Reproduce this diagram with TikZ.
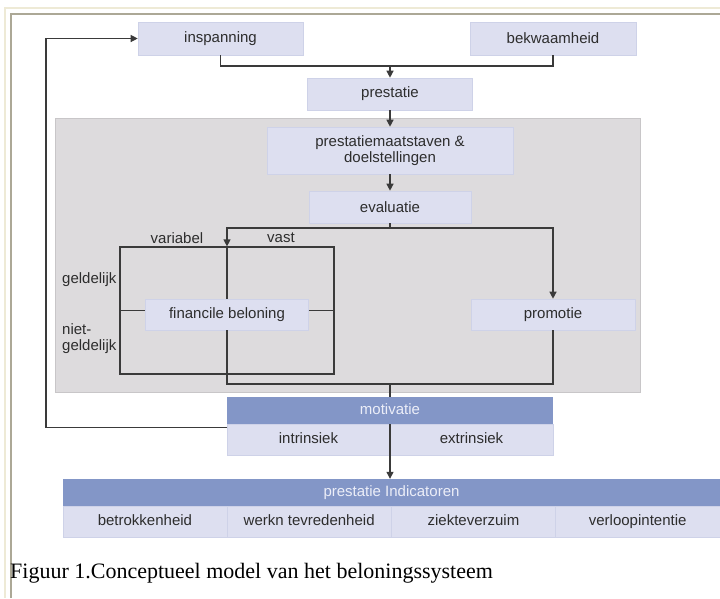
\documentclass[tikz,border=0pt]{standalone}
\usepackage{fontspec}
\setmainfont{Liberation Sans}
\newfontfamily\captionserif{Liberation Serif}
\usetikzlibrary{arrows.meta, positioning, calc}
\definecolor{boxlila}{RGB}{221,223,240}
\definecolor{boxrand}{RGB}{206,210,232}
\definecolor{kopblauw}{RGB}{131,150,199}
\definecolor{koptekst}{RGB}{236,238,248}
\definecolor{paneelgrijs}{RGB}{221,219,221}
\definecolor{paneelrand}{RGB}{200,198,200}
\definecolor{lijngrijs}{RGB}{58,58,58}
\definecolor{tekstgrijs}{RGB}{45,45,45}
\definecolor{kaderbeige}{RGB}{238,234,214}
\definecolor{kaderolijf}{RGB}{172,168,150}

\begin{document}
\begin{tikzpicture}[
  x=1pt, y=-1pt,
  every node/.style={font=\fontsize{15}{16}\selectfont, text=tekstgrijs},
  box/.style={
    fill=boxlila, draw=boxrand, line width=0.6pt,
    inner sep=0pt, align=center
  },
  kop/.style={fill=kopblauw, inner sep=0pt, text=koptekst, text height=11pt, text depth=3pt},
  cel/.style={
    fill=boxlila, draw=boxrand, line width=0.6pt, inner sep=0pt, outer sep=0pt,
    minimum width=163pt, minimum height=31pt, text height=11pt, text depth=3pt
  },
  arrow/.style={-{Triangle[length=7pt, width=7pt]}, line width=1.2pt, draw=lijngrijs},
  link/.style={line width=1.2pt, draw=lijngrijs},
  tag/.style={inner sep=0pt, align=left}
]

  % Achtergrond en kader
  \useasboundingbox (0,0) rectangle (720,598);
  \fill[white] (0,0) rectangle (720,598);
  \draw[kaderbeige, line width=1.5pt] (5,598) |- (720,8);
  \draw[kaderolijf, line width=1.5pt] (11,598) |- (720,14);

  % Grijs paneel (beoordeling en beloning)
  \node[fill=paneelgrijs, draw=paneelrand, line width=1pt, inner sep=0pt,
    minimum width=585pt, minimum height=274pt] (paneel) at (347.5,255) {};

  % Bovenste kolom
  \node[box, minimum width=165pt, minimum height=33pt] (inspanning) at (220.5,38.5) {inspanning};
  \node[box, minimum width=166pt, minimum height=33pt] (bekwaamheid) at (553,38.5) {bekwaamheid};
  \node[box, minimum width=165pt, minimum height=32pt] (prestatie) at (390,94) {prestatie};
  \node[box, minimum width=246pt, minimum height=47pt] (maatstaven) at (390,150.5) {prestatiemaatstaven \&\\doelstellingen};
  \node[box, minimum width=162pt, minimum height=32pt] (evaluatie) at (390,207) {evaluatie};

  % Beloningsraster
  \node[draw=lijngrijs, line width=1.2pt, inner sep=0pt,
    minimum width=214pt, minimum height=127pt] (raster) at (227,310.5) {};
  \node[box, minimum width=163pt, minimum height=31pt] (financieel) at (227,314.5) {financile beloning};
  \node[box, minimum width=164pt, minimum height=31pt] (promotie) at (553,314.5) {promotie};

  \node[tag] (variabel) at (177,238) {variabel};
  \node[tag] (vast) at (281,238) {vast};
  \node[tag, anchor=west] (geldelijk) at (62,280) {geldelijk};
  \node[tag, anchor=west] (nietgeldelijk) at (62,339) {niet-\\geldelijk};

  % Motivatie
  \node[kop, minimum width=326pt, minimum height=27pt] (motivatie) at (390,410.5) {motivatie};
  \node[cel, anchor=north east] (intrinsiek) at (motivatie.south) {intrinsiek};
  \node[cel, anchor=north west] (extrinsiek) at (motivatie.south) {extrinsiek};

  % Prestatie indicatoren
  \node[kop, minimum width=657pt, minimum height=27pt] (indicatoren) at (391.5,492.5) {prestatie Indicatoren};
  \node[cel, minimum width=164.25pt, anchor=north west] (betrokkenheid) at (indicatoren.south west) {betrokkenheid};
  \node[cel, minimum width=164.25pt, right=0pt of betrokkenheid] (tevredenheid) {werkn tevredenheid};
  \node[cel, minimum width=164.25pt, right=0pt of tevredenheid] (verzuim) {ziekteverzuim};
  \node[cel, minimum width=164.25pt, right=0pt of verzuim] (verloop) {verloopintentie};

  % Onderschrift
  \node[anchor=base west, inner sep=0pt, text=black,
    font=\captionserif\fontsize{22}{24}\selectfont] (onderschrift) at (10,578)
    {Figuur 1.Conceptueel model van het beloningssysteem};

  % Verbindingen boven
  \coordinate (samen) at (390,66);
  \draw[link] (inspanning.south) |- (samen) -| (bekwaamheid.south);
  \draw[arrow] (samen) -- (prestatie);
  \draw[arrow] (prestatie) -- (maatstaven);
  \draw[arrow] (maatstaven) -- (evaluatie);

  % Splitsing naar beloning en promotie
  \coordinate (splits) at (390,228);
  \draw[link] (evaluatie) -- (splits);
  \draw[arrow] (splits) -| (raster.north);
  \draw[arrow] (splits) -| (promotie.north);
  \draw[link] (raster.north) -- (financieel.north);
  \draw[link] (raster.west) -- (raster.west -| financieel.west);
  \draw[link] (raster.east -| financieel.east) -- (raster.east);

  % Samenkomst naar motivatie
  \coordinate (bundel) at (390,384);
  \draw[link] (financieel.south) |- (bundel) -| (promotie.south);
  \draw[link] (bundel) -- (motivatie.north);
  \draw[arrow] (motivatie.south) -- (motivatie.south |- indicatoren.north);

  % Terugkoppeling naar inspanning
  \draw[arrow] ($(intrinsiek.north west)+(0,3)$) -- ++(-181,0) |- (inspanning.west);

\end{tikzpicture}
\end{document}
